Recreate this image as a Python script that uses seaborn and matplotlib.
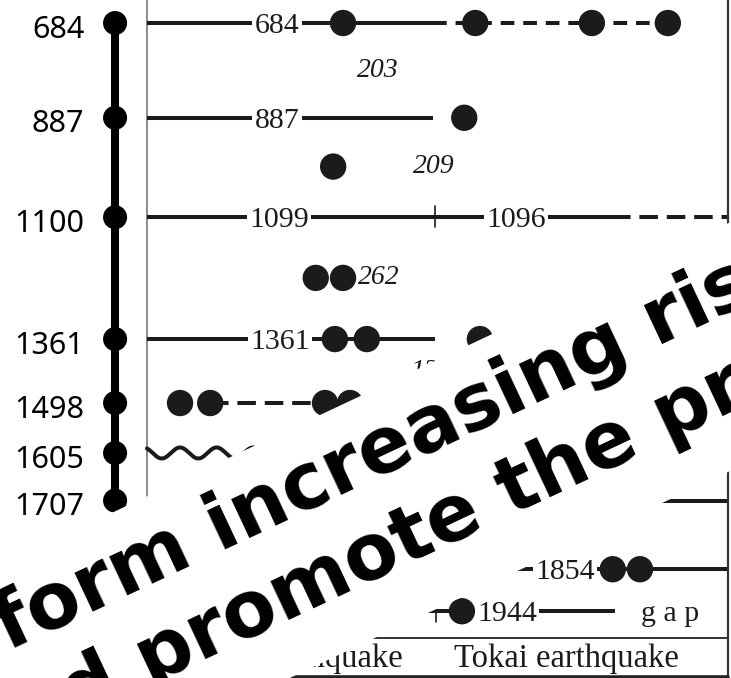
import numpy as np
import matplotlib
matplotlib.use("Agg")
import matplotlib.pyplot as plt
import seaborn as sns
from matplotlib.patches import Polygon

sns.set_style("white")
plt.rcParams["font.family"] = ["DejaVu Sans"]

# ---------------------------------------------------------------
# Timeline of great Nankai-trough earthquakes (left column)
timeline_years = [684, 887, 1100, 1361, 1498, 1605, 1707]
timeline_labels = ["684", "887", "1100", "1361", "1498", "1605", "1707"]

# ---------------------------------------------------------------
# Rupture diagram; positions run along the trough (0 = west, 100 = east)
rupture_years = [684, 684, 684, 684, 887, 1361, 1361, 1361,
                 1498, 1498, 1498, 1498, 1854, 1854, 1944]
rupture_pos = [33.8, 56.6, 76.7, 89.8, 54.7, 32.4, 37.9, 57.4,
               5.7, 10.9, 30.7, 35.0, 80.3, 85.0, 54.3]

# certain rupture extents (solid), uncertain (dashed), undocumented (wavy)
solid_years = [684, 887, 1099, 1361, 1707, 1854, 1944]
solid_from = [0, 0, 0, 0, 30, 40, 40]
solid_to = [49.3, 49.3, 80.2, 49.7, 100, 100, 80.7]

dashed_years = [684, 1099, 1498]
dashed_from = [49.3, 80.2, 10.9]
dashed_to = [89.8, 100, 30.7]

wavy_years = [1605]
wavy_from = [0]
wavy_to = [40]

boundary_years = [1099, 1944]
boundary_pos = [49.7, 49.8]

# year labels written on the rupture rows
row_label_text = ["684", "887", "1099", "1096", "1361", "1854", "1944"]
row_label_year = [684, 887, 1099, 1099, 1361, 1854, 1944]
row_label_pos = [22.4, 22.4, 22.8, 63.6, 22.9, 72.1, 62.1]

# recurrence intervals (years) between successive events
interval_from = [684, 887, 1099, 1361]
interval_to = [887, 1096, 1361, 1498]
interval_pos = [36.2, 45.9, 36.4, 45.3]
interval_dot_year = [991.5, 1230, 1230]
interval_dot_pos = [32.1, 29.1, 33.8]

region_labels = ["Tonankai earthquake", "Tokai earthquake"]

INK = "#1b1b1b"
SERIF = "Liberation Serif"

fig = plt.figure(figsize=(7.31, 6.78), dpi=100)
ax = fig.add_axes([0, 0, 1, 1])
ax.set_xlim(-25.34, 100.69)
ax.set_ylim(2087, 634.7)
ax.axis("off")

# --- timeline column
tl_x = [-5.5] * len(timeline_years)
ax.plot(tl_x, timeline_years, color="black", lw=5.8, solid_capstyle="butt", zorder=3)
sns.scatterplot(x=tl_x, y=timeline_years, s=300, color="black",
                edgecolor="none", ax=ax, zorder=4, legend=False)
for yr, lab in zip(timeline_years, timeline_labels):
    ax.text(-10.8, yr + 14, lab, ha="right", va="center", fontsize=22,
            family="Noto Sans", color="black")

# --- diagram frame
ax.plot([0, 0], [634.7, 2087], color="#777777", lw=1.2, zorder=2)
ax.plot([100.1, 100.1], [634.7, 2087], color="#333333", lw=1.6, zorder=2)
ax.plot([0, 100.1], [2001, 2001], color="#333333", lw=1.4, zorder=2)
ax.plot([0, 100.1], [2085, 2085], color="#222222", lw=2.6, zorder=2)

# --- rupture extents
for yr, a, b in zip(solid_years, solid_from, solid_to):
    ax.plot([a, b], [yr, yr], color=INK, lw=2.9, solid_capstyle="butt", zorder=2)
for yr, a, b in zip(dashed_years, dashed_from, dashed_to):
    pattern = (3.4, 2.2) if yr == 684 else (4.6, 2.2)
    ax.plot([a, b], [yr, yr], color=INK, lw=2.9, dashes=pattern,
            dash_capstyle="butt", zorder=2)


def wavy(y0, a, b, amp=11.8, wavelength=6.3, crest=5.7):
    # wavy stroke marking a poorly documented rupture extent
    xs = np.linspace(a, b, 400)
    ax.plot(xs, y0 - amp * np.cos(2 * np.pi * (xs - crest) / wavelength),
            color=INK, lw=2.9, zorder=2)


for yr, a, b in zip(wavy_years, wavy_from, wavy_to):
    wavy(yr, a, b)
for yr, p in zip(boundary_years, boundary_pos):
    ax.plot([p, p], [yr - 23, yr + 23], color=INK, lw=1.2, zorder=2)

sns.scatterplot(x=rupture_pos, y=rupture_years, s=360, color=INK,
                edgecolor="none", ax=ax, zorder=3, legend=False)
sns.scatterplot(x=interval_dot_pos, y=interval_dot_year, s=360, color=INK,
                edgecolor="none", ax=ax, zorder=3, legend=False)

for t, yr, p in zip(row_label_text, row_label_year, row_label_pos):
    ax.text(p, yr + 6, t, ha="center", va="center", fontsize=21.5,
            family=SERIF, color=INK, zorder=4,
            bbox=dict(boxstyle="square,pad=0.08", fc="white", ec="none"))
ax.text(90.2, 1944 + 6, "g a p", ha="center", va="center", fontsize=21.5,
        family=SERIF, color=INK, zorder=4)

for a, b, p in zip(interval_from, interval_to, interval_pos):
    ax.text(p, (a + b) / 2, str(b - a), ha="left", va="center", fontsize=20,
            family=SERIF, style="italic", color=INK, zorder=4)

ax.text(44.1, 2046, region_labels[0], ha="right", va="center", fontsize=23.5,
        family=SERIF, color=INK, zorder=4)
ax.text(72.3, 2046, region_labels[1], ha="center", va="center", fontsize=23.5,
        family=SERIF, color=INK, zorder=4)

# --- slanted banner laid over the figure
W, H = 731.0, 678.0
slope = 0.47
angle = np.degrees(np.arctan(slope))


def top_edge(x):
    return 318 + slope * (x - 437)


def bottom_edge(x):
    return 124 + slope * (x - 553.5)


corners = [(-300, top_edge(-300)), (1100, top_edge(1100)),
           (1100, bottom_edge(1100)), (-300, bottom_edge(-300))]
banner = Polygon([(x / W, y / H) for x, y in corners], closed=True,
                 transform=fig.transFigure, facecolor="white",
                 edgecolor="none", zorder=10)
fig.patches.append(banner)

x1 = 8.0
fig.text(x1 / W, (110 + slope * (x1 - 185)) / H, "form increasing risk",
         rotation=angle, rotation_mode="anchor", ha="left", va="baseline",
         fontsize=56, fontweight="bold", color="black", zorder=11)
x2 = -23.0
fig.text(x2 / W, (141 + slope * (x2 - 465)) / H, "and promote the practice",
         rotation=angle, rotation_mode="anchor", ha="left", va="baseline",
         fontsize=56, fontweight="bold", color="black", zorder=11)

fig.savefig("out.png", dpi=100, facecolor="white")
